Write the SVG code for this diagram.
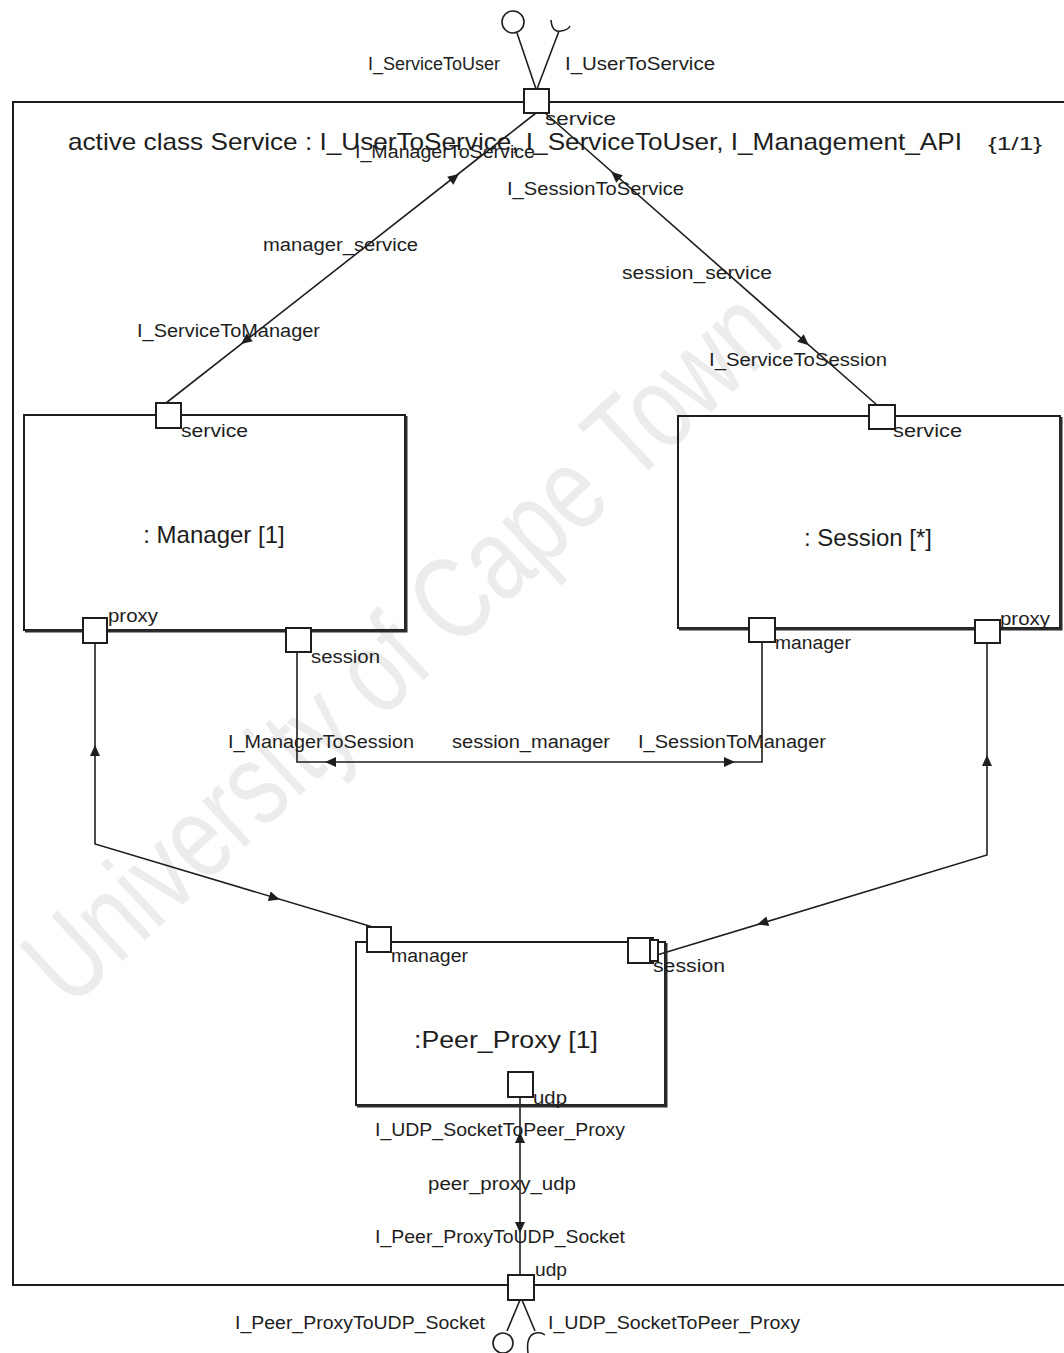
<svg xmlns="http://www.w3.org/2000/svg" width="1064" height="1353" viewBox="0 0 1064 1353">
<style>
.t{font-family:"Liberation Sans",Arial,sans-serif;font-size:18px;fill:#1e1e1e}
.big{font-family:"Liberation Sans",Arial,sans-serif;font-size:24px;fill:#1e1e1e}
.box{fill:none;stroke:#1e1e1e;stroke-width:2}
.sh{fill:none;stroke:#2a2a2a;stroke-width:3}
.port{fill:#fff;stroke:#1e1e1e;stroke-width:2}
.ln{fill:none;stroke:#1e1e1e;stroke-width:1.6}
.wm{font-family:"Liberation Sans",Arial,sans-serif;font-size:118px;fill:#ececec}
</style>
<defs>
<path id="ah" d="M5,0 L-6,-5 L-6,5 Z" fill="#1e1e1e"/>
</defs>
<rect width="1064" height="1353" fill="#fff"/>
<text class="wm" x="70" y="1010" transform="rotate(-43 70 1010)" textLength="980" lengthAdjust="spacingAndGlyphs">University of Cape Town</text>

<g id="frame">
<rect x="13" y="102" width="1062" height="1183" class="box"/>
<text class="big" x="68" y="150" textLength="894" lengthAdjust="spacingAndGlyphs">active class Service : I_UserToService, I_ServiceToUser, I_Management_API</text>
<text class="t" x="988" y="150" textLength="54" lengthAdjust="spacingAndGlyphs">{1/1}</text>
</g>

<g id="connectors">
<!-- top lollipop -->
<line class="ln" x1="536" y1="89" x2="517" y2="33"/>
<circle cx="513" cy="22" r="11" fill="none" stroke="#1e1e1e" stroke-width="1.6"/>
<line class="ln" x1="537" y1="89" x2="559" y2="31"/>
<path class="ln" d="M551,20 Q552,33 561,31 Q568,30 570,26"/>
<text class="t" x="368" y="70" textLength="132" lengthAdjust="spacingAndGlyphs">I_ServiceToUser</text>
<text class="t" x="565" y="70" textLength="150" lengthAdjust="spacingAndGlyphs">I_UserToService</text>

<!-- manager_service -->
<line class="ln" x1="536" y1="113" x2="166" y2="403"/>
<use href="#ah" transform="translate(455,177) rotate(-38)"/>
<use href="#ah" transform="translate(245,341) rotate(142)"/>
<text class="t" x="355" y="158" textLength="180" lengthAdjust="spacingAndGlyphs">I_ManagerToService</text>
<text class="t" x="263" y="251" textLength="155" lengthAdjust="spacingAndGlyphs">manager_service</text>
<text class="t" x="137" y="337" textLength="183" lengthAdjust="spacingAndGlyphs">I_ServiceToManager</text>

<!-- session_service -->
<line class="ln" x1="545" y1="113" x2="877" y2="405"/>
<use href="#ah" transform="translate(615,175) rotate(221)"/>
<use href="#ah" transform="translate(805,342) rotate(41)"/>
<text class="t" x="507" y="195" textLength="177" lengthAdjust="spacingAndGlyphs">I_SessionToService</text>
<text class="t" x="622" y="279" textLength="150" lengthAdjust="spacingAndGlyphs">session_service</text>
<text class="t" x="709" y="366" textLength="178" lengthAdjust="spacingAndGlyphs">I_ServiceToSession</text>

<!-- session_manager -->
<polyline class="ln" points="297,652 297,762 762,762 762,642"/>
<use href="#ah" transform="translate(330,762) rotate(180)"/>
<use href="#ah" transform="translate(730,762)"/>
<text class="t" x="228" y="748" textLength="186" lengthAdjust="spacingAndGlyphs">I_ManagerToSession</text>
<text class="t" x="452" y="748" textLength="158" lengthAdjust="spacingAndGlyphs">session_manager</text>
<text class="t" x="638" y="748" textLength="188" lengthAdjust="spacingAndGlyphs">I_SessionToManager</text>

<!-- manager proxy -->
<polyline class="ln" points="95,643 95,844 376,928"/>
<use href="#ah" transform="translate(95,750) rotate(-90)"/>
<use href="#ah" transform="translate(275,898) rotate(16.5)"/>

<!-- session proxy -->
<polyline class="ln" points="987,643 987,855 657,955"/>
<use href="#ah" transform="translate(987,760) rotate(-90)"/>
<use href="#ah" transform="translate(762,923) rotate(163)"/>

<!-- peer_proxy_udp -->
<line class="ln" x1="520" y1="1097" x2="520" y2="1275"/>
<use href="#ah" transform="translate(520,1137) rotate(-90)"/>
<use href="#ah" transform="translate(520,1228) rotate(90)"/>
<text class="t" x="375" y="1136" textLength="250" lengthAdjust="spacingAndGlyphs">I_UDP_SocketToPeer_Proxy</text>
<text class="t" x="428" y="1190" textLength="148" lengthAdjust="spacingAndGlyphs">peer_proxy_udp</text>
<text class="t" x="375" y="1243" textLength="250" lengthAdjust="spacingAndGlyphs">I_Peer_ProxyToUDP_Socket</text>

<!-- bottom lollipop -->
<line class="ln" x1="520" y1="1300" x2="507" y2="1331"/>
<circle cx="503" cy="1343" r="10" fill="none" stroke="#1e1e1e" stroke-width="1.6"/>
<line class="ln" x1="522" y1="1300" x2="535" y2="1331"/>
<path class="ln" d="M528,1353 Q526,1338 533,1334 Q540,1331 545,1335"/>
<text class="t" x="235" y="1329" textLength="250" lengthAdjust="spacingAndGlyphs">I_Peer_ProxyToUDP_Socket</text>
<text class="t" x="548" y="1329" textLength="252" lengthAdjust="spacingAndGlyphs">I_UDP_SocketToPeer_Proxy</text>
</g>

<g id="port-service-top">
<rect class="port" x="524" y="89" width="25" height="24"/>
<text class="t" x="545" y="125" textLength="71" lengthAdjust="spacingAndGlyphs">service</text>
</g>

<g id="manager">
<rect class="box" x="24" y="415" width="381" height="215"/>
<polyline class="sh" points="406,416 406,631 25,631"/>
<text class="big" x="214" y="543" text-anchor="middle">: Manager [1]</text>
<rect class="port" x="156" y="403" width="25" height="25"/>
<text class="t" x="181" y="437" textLength="67" lengthAdjust="spacingAndGlyphs">service</text>
<rect class="port" x="83" y="618" width="24" height="25"/>
<text class="t" x="108" y="622" textLength="50" lengthAdjust="spacingAndGlyphs">proxy</text>
<rect class="port" x="286" y="628" width="25" height="24"/>
<text class="t" x="311" y="663" textLength="69" lengthAdjust="spacingAndGlyphs">session</text>
</g>

<g id="session">
<rect class="box" x="678" y="416" width="382" height="212"/>
<polyline class="sh" points="1061,417 1061,629 679,629"/>
<text class="big" x="868" y="546" text-anchor="middle">: Session [*]</text>
<rect class="port" x="869" y="405" width="26" height="24"/>
<text class="t" x="893" y="437" textLength="69" lengthAdjust="spacingAndGlyphs">service</text>
<rect class="port" x="749" y="618" width="26" height="24"/>
<text class="t" x="775" y="649" textLength="76" lengthAdjust="spacingAndGlyphs">manager</text>
<rect class="port" x="975" y="620" width="25" height="23"/>
<text class="t" x="1000" y="625" textLength="50" lengthAdjust="spacingAndGlyphs">proxy</text>
</g>

<g id="peer_proxy">
<rect class="box" x="356" y="942" width="309" height="163"/>
<polyline class="sh" points="666,943 666,1106 357,1106"/>
<text class="big" x="506" y="1048" text-anchor="middle" textLength="184" lengthAdjust="spacingAndGlyphs">:Peer_Proxy [1]</text>
<rect class="port" x="367" y="927" width="24" height="25"/>
<text class="t" x="391" y="962" textLength="77" lengthAdjust="spacingAndGlyphs">manager</text>
<rect class="port" x="628" y="938" width="25" height="25"/>
<rect class="port" x="650" y="940" width="8" height="21"/>
<text class="t" x="653" y="972" textLength="72" lengthAdjust="spacingAndGlyphs">session</text>
<rect class="port" x="508" y="1072" width="25" height="25"/>
<text class="t" x="533" y="1104" textLength="34" lengthAdjust="spacingAndGlyphs">udp</text>
</g>

<g id="port-udp-bottom">
<rect class="port" x="508" y="1275" width="26" height="25"/>
<text class="t" x="535" y="1276" textLength="32" lengthAdjust="spacingAndGlyphs">udp</text>
</g>
</svg>
